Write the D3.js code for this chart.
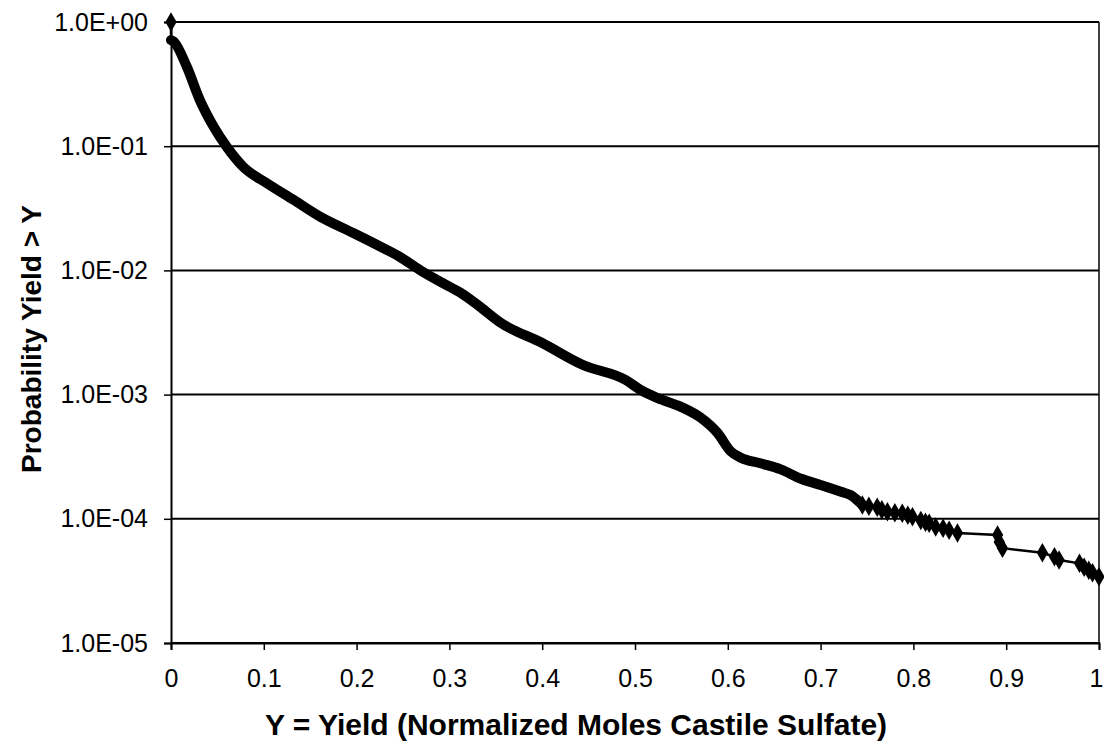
<!DOCTYPE html>
<html>
<head>
<meta charset="utf-8">
<script src="https://cdn.jsdelivr.net/npm/d3@7"></script>
<style>
  html, body { margin: 0; padding: 0; background: #fff; }
  svg { display: block; }
  text { font-family: "Liberation Sans", Arial, sans-serif; fill: #000; }
</style>
</head>
<body>
<svg id="chart" width="1104" height="743"></svg>
<script>
// ---- data ----
const startX = [0, 0];
const startP = [1.0, 0.716];

const denseX = [0, 0.0025, 0.017, 0.031, 0.0458, 0.060, 0.078, 0.104, 0.132, 0.161, 0.190, 0.218, 0.247, 0.269, 0.293, 0.312, 0.330, 0.355, 0.400, 0.444, 0.490, 0.506, 0.524, 0.549, 0.571, 0.589, 0.603, 0.614, 0.635, 0.657, 0.679, 0.700, 0.722, 0.7325, 0.745];
const denseP = [0.716, 0.70, 0.437, 0.236, 0.144, 0.099, 0.068, 0.050, 0.037, 0.027, 0.0211, 0.0166, 0.0128, 0.0100, 0.0079, 0.0066, 0.0053, 0.0038, 0.0026, 0.00173, 0.00131, 0.00109, 0.00094, 0.00080, 0.00065, 0.00049, 0.00035, 0.00031, 0.00028, 0.00025, 0.00021, 0.000187, 0.000165, 0.000155, 0.000129];

const tailX = [0.745, 0.752, 0.761, 0.766, 0.772, 0.780, 0.788, 0.794, 0.799, 0.808, 0.813, 0.817, 0.824, 0.832, 0.8385, 0.8475, 0.8907, 0.8925, 0.896, 0.939, 0.952, 0.957, 0.979, 0.984, 0.989, 0.993, 1.0];
const tailP = [1.29e-4, 1.26e-4, 1.24e-4, 1.18e-4, 1.14e-4, 1.12e-4, 1.11e-4, 1.07e-4, 1.04e-4, 9.7e-5, 9.4e-5, 9.2e-5, 8.6e-5, 8.4e-5, 8.1e-5, 7.7e-5, 7.4e-5, 6.5e-5, 5.8e-5, 5.33e-5, 4.95e-5, 4.66e-5, 4.38e-5, 4.07e-5, 3.85e-5, 3.68e-5, 3.42e-5];

const xTicks = [0, 0.1, 0.2, 0.3, 0.4, 0.5, 0.6, 0.7, 0.8, 0.9, 1];
const xTickLabels = ["0", "0.1", "0.2", "0.3", "0.4", "0.5", "0.6", "0.7", "0.8", "0.9", "1"];
const yTicks = [1, 1e-1, 1e-2, 1e-3, 1e-4, 1e-5];
const yTickLabels = ["1.0E+00", "1.0E-01", "1.0E-02", "1.0E-03", "1.0E-04", "1.0E-05"];

const xTitle = "Y = Yield (Normalized Moles Castile Sulfate)";
const yTitle = "Probability Yield > Y";

// ---- layout ----
const L = 171, R = 1099, T = 22, B = 643;
const svg = d3.select("#chart");
const x = d3.scaleLinear().domain([0, 1]).range([L, R]);
const y = d3.scaleLog().domain([1e-5, 1]).range([B, T]);

// gridlines
svg.append("g").selectAll("line").data(yTicks).join("line")
  .attr("x1", L).attr("x2", R)
  .attr("y1", d => y(d)).attr("y2", d => y(d))
  .attr("stroke", "#000").attr("stroke-width", 2);

// right border
svg.append("line").attr("x1", R).attr("x2", R).attr("y1", T).attr("y2", B)
  .attr("stroke", "#000").attr("stroke-width", 1.5);

// axes
const xAxis = d3.axisBottom(x).tickValues(xTicks)
  .tickFormat((d, i) => xTickLabels[i]).tickSize(7).tickPadding(19);
const gx = svg.append("g").attr("transform", `translate(0,${B})`).call(xAxis);
gx.select(".domain").attr("stroke", "#000").attr("stroke-width", 2);
gx.selectAll(".tick line").attr("stroke", "#000").attr("stroke-width", 1.5);
gx.selectAll("text").attr("font-size", 25).attr("fill", "#000");
gx.selectAll(".tick").filter(d => d === 1).select("text")
  .attr("text-anchor", "end").attr("dx", 4);

const yAxis = d3.axisLeft(y).tickValues(yTicks)
  .tickFormat((d, i) => yTickLabels[i]).tickSize(7).tickPadding(16);
const gy = svg.append("g").attr("transform", `translate(${L},0)`).call(yAxis);
gy.select(".domain").attr("stroke", "#000").attr("stroke-width", 2);
gy.selectAll(".tick line").attr("stroke", "#000").attr("stroke-width", 1.5);
gy.selectAll("text").attr("font-size", 25).attr("fill", "#000");

// series
const line = d3.line().x(d => x(d[0])).y(d => y(d[1]));
const startPts = startX.map((v, i) => [v, startP[i]]);
const densePts = denseX.map((v, i) => [v, denseP[i]]);
const tailPts = tailX.map((v, i) => [v, tailP[i]]);

svg.append("path").datum(startPts).attr("d", line)
  .attr("fill", "none").attr("stroke", "#000").attr("stroke-width", 2.5);
svg.append("path").datum(tailPts).attr("d", line)
  .attr("fill", "none").attr("stroke", "#000").attr("stroke-width", 2.5);
svg.append("path").datum(densePts).attr("d", d3.line().curve(d3.curveMonotoneX).x(d => x(d[0])).y(d => y(d[1])))
  .attr("fill", "none").attr("stroke", "#000").attr("stroke-width", 10)
  .attr("stroke-linejoin", "round").attr("stroke-linecap", "round");

const diamond = d3.symbol().type(d3.symbolDiamond).size(110);
svg.append("g").selectAll("path").data(tailPts.concat([startPts[0]])).join("path")
  .attr("d", diamond)
  .attr("transform", d => `translate(${x(d[0])},${y(d[1])})`)
  .attr("fill", "#000");

// titles
svg.append("text").attr("x", 576).attr("y", 735)
  .attr("text-anchor", "middle").attr("font-weight", "bold").attr("font-size", 30)
  .text(xTitle);
svg.append("text").attr("transform", `translate(41,339) rotate(-90)`)
  .attr("text-anchor", "middle").attr("font-weight", "bold").attr("font-size", 28)
  .text(yTitle);
</script>
</body>
</html>
